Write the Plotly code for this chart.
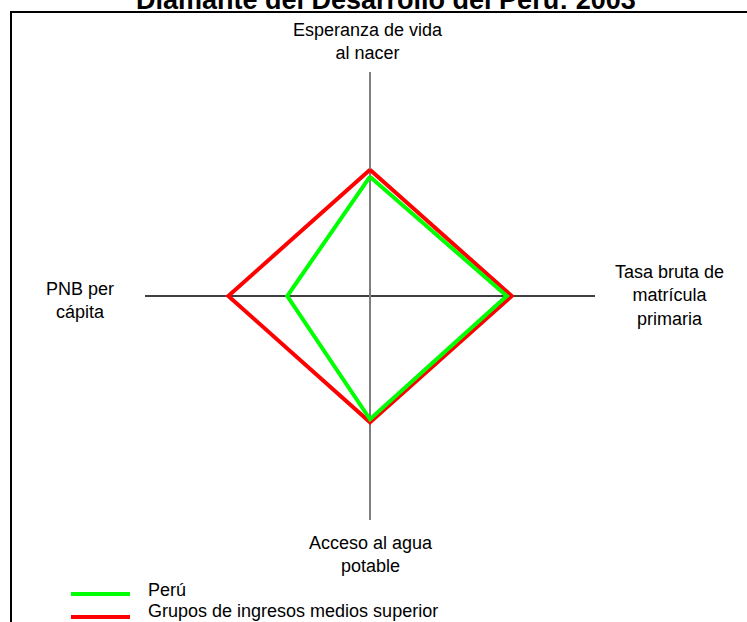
import plotly.graph_objects as go

# ---- data ----
categories = ["Esperanza de vida<br>al nacer", "Tasa bruta de<br>matrícula<br>primaria",
              "Acceso al agua<br>potable", "PNB per<br>cápita"]
peru = [0.945, 0.965, 0.976, 0.584]
grupo = [1.0, 1.0, 1.0, 1.0]
series_names = ["Perú", "Grupos de ingresos medios superior"]
title_text = "Diamante del Desarrollo del Perú: 2003"

# ---- geometry ----
W, H = 747, 622
CX, CY = 370, 296          # centre pixel
SX, SY = 141.7, 126.3      # pixels per unit horizontally / vertically
dirs = [(0, 1), (1, 0), (0, -1), (-1, 0)]   # up, right, down, left


def diamond(vals):
    xs = [d[0] * v for d, v in zip(dirs, vals)]
    ys = [d[1] * v for d, v in zip(dirs, vals)]
    return xs + xs[:1], ys + ys[:1]


def px(x):
    return x / W


def py(y):
    return 1 - y / H


fig = go.Figure()
# axes cross
fig.add_trace(go.Scatter(x=[-225 / SX, 225 / SX], y=[0, 0], mode="lines",
                         line=dict(color="black", width=1.3), showlegend=False, hoverinfo="skip"))
fig.add_trace(go.Scatter(x=[0, 0], y=[(CY - 72) / SY, -(520 - CY) / SY], mode="lines",
                         line=dict(color="#7f7f7f", width=2), showlegend=False, hoverinfo="skip"))

gx, gy = diamond(grupo)
fig.add_trace(go.Scatter(x=gx, y=gy, mode="lines", name=series_names[1],
                         line=dict(color="#ff0000", width=4), showlegend=False))
px_, py_ = diamond(peru)
fig.add_trace(go.Scatter(x=px_, y=py_, mode="lines", name=series_names[0],
                         line=dict(color="#00ff00", width=4), showlegend=False))

font = dict(family="Liberation Sans, Arial, sans-serif", size=18, color="black")
ann = []
label_pos = [(368, 41), (669, 295), (371, 554), (80, 301)]   # up, right, down, left
for text, (x, y) in zip(categories, label_pos):
    ann.append(dict(x=px(x), y=py(y), xref="paper", yref="paper", text=text, showarrow=False,
                    font=font, xanchor="center", yanchor="middle", align="center"))

# title
ann.append(dict(x=px(386), y=py(0), xref="paper", yref="paper", text="<b>" + title_text + "</b>",
                showarrow=False, font=dict(family="Liberation Sans, Arial, sans-serif", size=27, color="black"),
                xanchor="center", yanchor="middle"))

# legend
leg_colors = ["#00ff00", "#ff0000"]
leg_y_line = [594, 617]
leg_y_text = [590, 611]
shapes = []
for name, col, yl, yt in zip(series_names, leg_colors, leg_y_line, leg_y_text):
    shapes.append(dict(type="line", xref="paper", yref="paper", x0=px(71), x1=px(130),
                       y0=py(yl), y1=py(yl), line=dict(color=col, width=4)))
    ann.append(dict(x=px(146), y=py(yt), xref="paper", yref="paper", text=name, showarrow=False,
                    font=font, xanchor="left", yanchor="middle"))

# frame
shapes.append(dict(type="line", xref="paper", yref="paper", x0=px(10), x1=px(747), y0=py(12), y1=py(12),
                   line=dict(color="black", width=2)))
shapes.append(dict(type="line", xref="paper", yref="paper", x0=px(11), x1=px(11), y0=py(12), y1=py(622),
                   line=dict(color="black", width=2)))

fig.update_layout(
    width=W, height=H,
    margin=dict(l=0, r=0, t=0, b=0),
    paper_bgcolor="white", plot_bgcolor="white",
    xaxis=dict(range=[-CX / SX, (W - CX) / SX], visible=False, fixedrange=True),
    yaxis=dict(range=[-(H - CY) / SY, CY / SY], visible=False, fixedrange=True),
    annotations=ann, shapes=shapes, showlegend=False,
)
fig.write_html("out.html", config={"displayModeBar": False},
               post_script="document.body.style.margin='0';document.body.style.overflow='hidden';")
